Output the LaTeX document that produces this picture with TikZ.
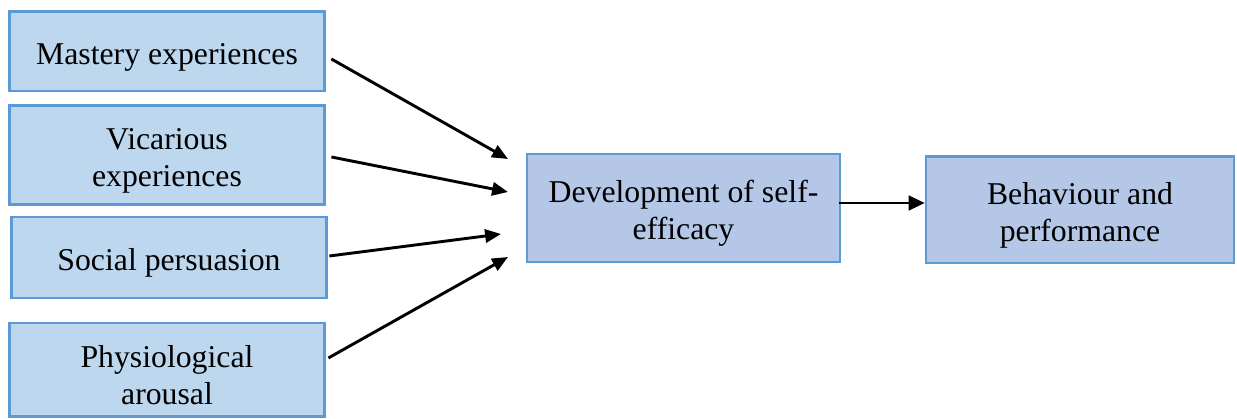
\documentclass[tikz,border=0pt]{standalone}
\usepackage{fontspec}
\setmainfont{Liberation Serif}
\usetikzlibrary{arrows.meta,calc}

\definecolor{boxline}{RGB}{91,155,213}
\definecolor{sourcefill}{RGB}{189,215,238}
\definecolor{outfill}{RGB}{180,199,231}
\newcommand\topstrut{\rule{0pt}{12.5pt}}

\begin{document}
\begin{tikzpicture}[x=0.378pt, y=-0.378pt,
    every node/.style={font=\fontsize{12}{14}\selectfont, align=center, inner sep=0pt},
    source/.style={draw=boxline, fill=sourcefill, line width=1.1pt, minimum width=119.4pt},
    outcome/.style={draw=boxline, fill=outfill, line width=1.1pt},
    heavyarrow/.style={-{Triangle[length=6pt,width=5pt]}, line width=1.1pt},
    lightarrow/.style={-{Triangle[length=6pt,width=5.7pt]}, line width=0.45pt}]
  \useasboundingbox (0,0) rectangle (1237,419);

  % the four sources
  \node[source, minimum height=29.9pt] (mastery) at (167,51.5) {\topstrut Mastery experiences};
  \node[source, minimum height=37.4pt] (vicarious) at (167,155) {\topstrut Vicarious\\experiences};
  \node[source, minimum height=30.6pt] (persuasion) at (169,257.5) {\topstrut Social persuasion};
  \node[source, minimum height=35.5pt] (arousal) at (167,370) {\topstrut Physiological\\arousal};

  % self-efficacy and what follows
  \node[outcome, minimum width=118.3pt, minimum height=40.8pt] (efficacy) at (683.5,208) {\topstrut Development of self-\\efficacy};
  \node[outcome, minimum width=116.4pt, minimum height=40.1pt] (behaviour) at (1080,210) {\topstrut Behaviour and\\performance};

  \coordinate (in1) at (508,159);
  \coordinate (in2) at (508,192);
  \coordinate (in3) at (501,234);
  \coordinate (in4) at (508,257);

  \draw[heavyarrow] ($(mastery.east)+(5,7.5)$) -- (in1);
  \draw[heavyarrow] ($(vicarious.east)+(5,2)$) -- (in2);
  \draw[heavyarrow] ($(persuasion.east)+(1,-1.5)$) -- (in3);
  \draw[heavyarrow] ($(arousal.east)+(2,-12)$) -- (in4);

  \draw[lightarrow] ($(efficacy.east)+(-2,-5)$) -- (behaviour.west |- {$(efficacy.east)+(0,-5)$});
\end{tikzpicture}
\end{document}
